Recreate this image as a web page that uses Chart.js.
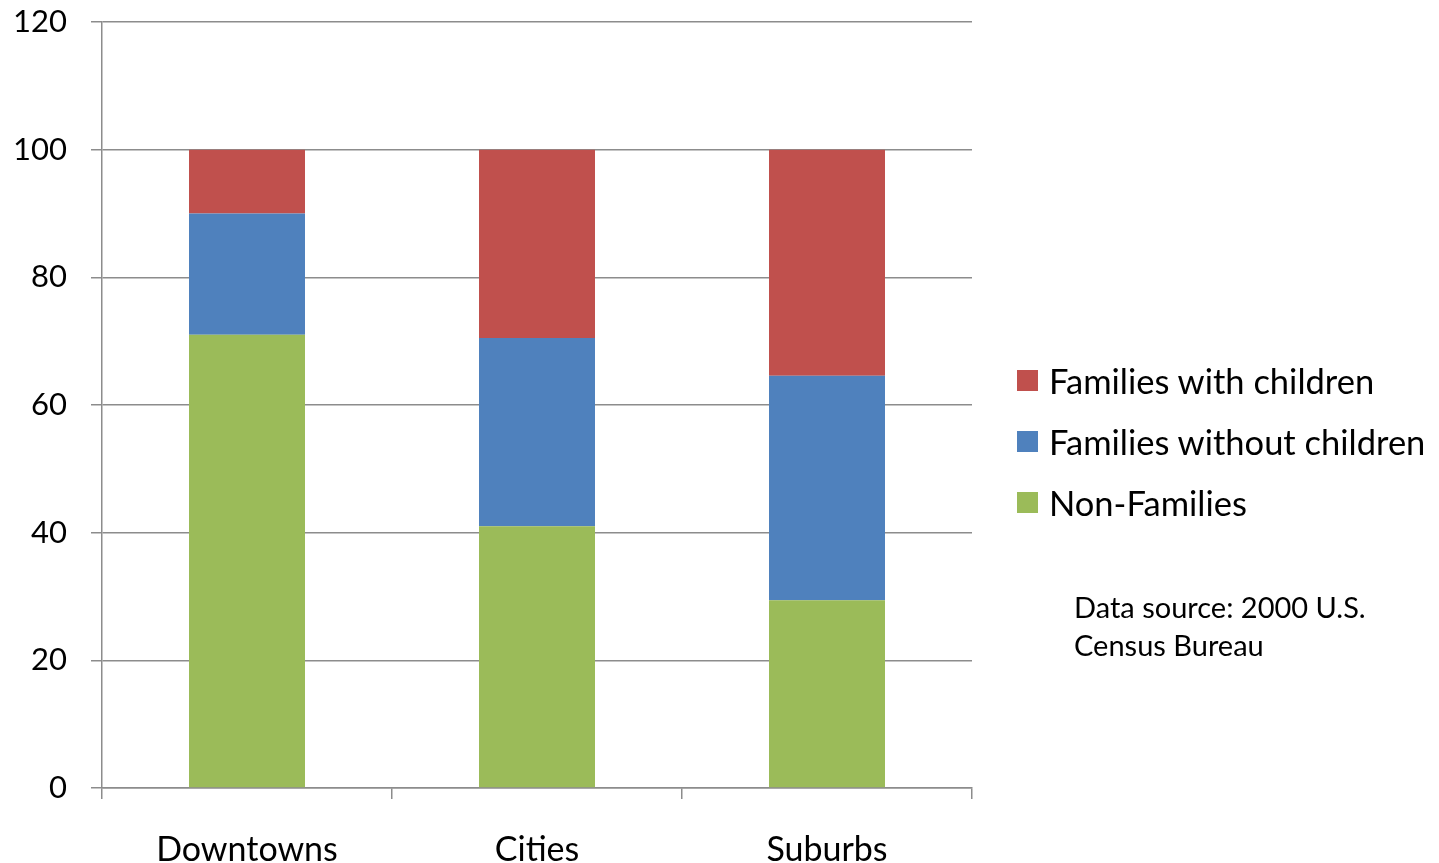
<!DOCTYPE html>
<html>
<head>
<meta charset="utf-8">
<title>Household types by area</title>
<script src="https://cdn.jsdelivr.net/npm/chart.js@4.4.0/dist/chart.umd.min.js"></script>
<style>
    html, body { margin: 0; padding: 0; background: #fff; }
    #wrap { position: relative; width: 1439px; height: 863px; overflow: hidden; font-family: Lato, "Open Sans", sans-serif; color: #000; }
    #householdChart { position: absolute; left: 0; top: 0; }
    #legend { position: absolute; left: 1017px; top: 350px; list-style: none; margin: 0; padding: 0; }
    #legend li { display: flex; align-items: center; height: 61px; font-size: 34.5px; white-space: nowrap; }
    #legend .swatch { display: inline-block; width: 21px; height: 21px; margin-right: 11px; }
    #source { position: absolute; left: 1074px; top: 588px; font-size: 29px; line-height: 38px; }
</style>
</head>
<body>
<div id="wrap">
    <canvas id="householdChart" width="1439" height="863"></canvas>
    <ul id="legend"></ul>
    <div id="source">Data source: 2000 U.S.<br>Census Bureau</div>
</div>
<script>
// Share of households (%) by type
const areas = ['Downtowns', 'Cities', 'Suburbs'];
const nonFamilies = [71, 41, 29.4];
const familiesWithoutChildren = [19, 29.5, 35.2];
const familiesWithChildren = [10, 29.5, 35.4];
const yTicks = [0, 20, 40, 60, 80, 100, 120];

const GRID = '#8c8c8c';

let householdChart = null;

document.addEventListener('DOMContentLoaded', function () {
    const ctx = document.getElementById('householdChart').getContext('2d');
    householdChart = new Chart(ctx, {
        type: 'bar',
        data: {
            labels: areas,
            datasets: [
                { label: 'Non-Families', data: nonFamilies, backgroundColor: '#9BBB59' },
                { label: 'Families without children', data: familiesWithoutChildren, backgroundColor: '#4F81BD' },
                { label: 'Families with children', data: familiesWithChildren, backgroundColor: '#C0504D' }
            ]
        },
        options: {
            responsive: false,
            animation: false,
            datasets: {
                bar: { categoryPercentage: 1, barPercentage: 0.4, borderWidth: 0 }
            },
            layout: { padding: { top: 22, right: 467, left: 0, bottom: 0 } },
            plugins: {
                legend: { display: false },
                tooltip: { enabled: false }
            },
            scales: {
                x: {
                    stacked: true,
                    grid: { offset: true, drawOnChartArea: false, drawTicks: true, tickLength: 11, color: GRID, lineWidth: 1.5 },
                    border: { color: GRID, width: 1.5 },
                    ticks: { font: { family: 'Lato', size: 34 }, color: '#000', padding: 31, maxRotation: 0 },
                    afterFit: function (scale) { scale.height = 75; }
                },
                y: {
                    stacked: true,
                    min: yTicks[0],
                    max: yTicks[yTicks.length - 1],
                    afterBuildTicks: function (scale) { scale.ticks = yTicks.map(v => ({ value: v })); },
                    grid: { color: GRID, lineWidth: 1.5, tickLength: 11 },
                    border: { color: GRID, width: 1.5 },
                    ticks: { font: { family: 'Lato', size: 31 }, color: '#000', padding: 24 },
                    afterFit: function (scale) {
                        scale.width = 102;
                        // plot area top is set by the layout padding alone
                        scale.paddingTop = 0;
                        scale.paddingBottom = 0;
                    }
                }
            }
        }
    });

    // Legend, top entry is the top of the stack
    const legend = document.getElementById('legend');
    householdChart.data.datasets.slice().reverse().forEach(ds => {
        const li = document.createElement('li');
        const sw = document.createElement('span');
        sw.className = 'swatch';
        sw.style.background = ds.backgroundColor;
        li.appendChild(sw);
        li.appendChild(document.createTextNode(ds.label));
        legend.appendChild(li);
    });
});
</script>
</body>
</html>
